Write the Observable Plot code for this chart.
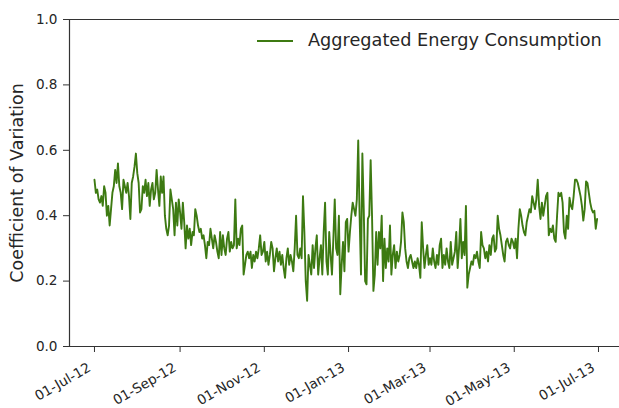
<!DOCTYPE html>
<html>
<head>
<meta charset="utf-8">
<script src="https://cdn.jsdelivr.net/npm/d3@7"></script>
<script src="https://cdn.jsdelivr.net/npm/@observablehq/plot@0.6"></script>
<style>
  html, body { margin: 0; padding: 0; background: #fff; }
  #wrap { position: relative; width: 619px; height: 408px; overflow: hidden; font-family: "DejaVu Sans", sans-serif; }
  #legend { position: absolute; left: 257px; top: 32px; height: 18px; white-space: nowrap; }
  #legend .swatch { position: absolute; left: 0; top: 8px; width: 36px; height: 0; border-top: 2px solid #3d7a12; }
  #legend .lbl { position: absolute; left: 51px; top: 0; font-size: 17.7px; line-height: 17.5px; color: #262626; }
</style>
</head>
<body>
<div id="wrap"></div>
<script>
// Daily coefficient of variation, 01-Jul-2012 .. 30-Jun-2013
const startDate = "2012-07-01";
const seriesName = "Aggregated Energy Consumption";
const yLabel = "Coefficient of Variation";
const jul12 = [0.51,0.47,0.48,0.45,0.44,0.46,0.43,0.49,0.47,0.40,0.43,0.37,0.42,0.47,0.49,0.54,0.50,0.56,0.49,0.47,0.42,0.51,0.49,0.47,0.50,0.46,0.39,0.50,0.52,0.55,0.59];
const aug12 = [0.53,0.50,0.41,0.42,0.49,0.47,0.51,0.46,0.50,0.43,0.48,0.50,0.45,0.47,0.54,0.48,0.43,0.52,0.47,0.52,0.40,0.36,0.34,0.37,0.48,0.45,0.42,0.34,0.44,0.37,0.45];
const sep12 = [0.41,0.36,0.44,0.38,0.30,0.37,0.33,0.36,0.31,0.35,0.34,0.42,0.40,0.37,0.35,0.36,0.33,0.34,0.31,0.27,0.32,0.31,0.36,0.33,0.30,0.34,0.32,0.29,0.27,0.35];
const oct12 = [0.28,0.34,0.30,0.28,0.33,0.35,0.29,0.32,0.30,0.31,0.45,0.30,0.33,0.31,0.36,0.37,0.22,0.25,0.28,0.29,0.27,0.29,0.24,0.28,0.26,0.29,0.27,0.30,0.34,0.28,0.29];
const nov12 = [0.32,0.26,0.29,0.25,0.28,0.32,0.30,0.23,0.27,0.30,0.26,0.29,0.25,0.28,0.24,0.21,0.27,0.30,0.25,0.28,0.26,0.23,0.30,0.40,0.28,0.27,0.30,0.27,0.46,0.35];
const dec12 = [0.20,0.14,0.28,0.25,0.22,0.31,0.24,0.30,0.34,0.22,0.27,0.31,0.22,0.35,0.44,0.26,0.22,0.35,0.28,0.22,0.33,0.45,0.30,0.28,0.40,0.16,0.25,0.32,0.23,0.38,0.39];
const jan13 = [0.29,0.35,0.40,0.44,0.42,0.40,0.45,0.63,0.40,0.22,0.59,0.42,0.20,0.19,0.39,0.40,0.57,0.40,0.17,0.22,0.35,0.25,0.35,0.30,0.40,0.20,0.33,0.24,0.30,0.26,0.37];
const feb13 = [0.22,0.28,0.31,0.24,0.29,0.26,0.28,0.32,0.41,0.38,0.30,0.26,0.24,0.27,0.28,0.26,0.24,0.26,0.24,0.27,0.25,0.21,0.38,0.30,0.24,0.28,0.31,0.25];
const mar13 = [0.27,0.25,0.30,0.26,0.24,0.28,0.25,0.31,0.33,0.24,0.28,0.25,0.30,0.26,0.24,0.32,0.25,0.27,0.29,0.35,0.24,0.30,0.39,0.27,0.32,0.28,0.43,0.18,0.22,0.24,0.26];
const apr13 = [0.25,0.28,0.27,0.29,0.26,0.24,0.35,0.31,0.30,0.27,0.29,0.26,0.31,0.28,0.33,0.34,0.29,0.30,0.40,0.36,0.34,0.31,0.28,0.26,0.32,0.33,0.31,0.30,0.33,0.32];
const may13 = [0.30,0.33,0.27,0.36,0.42,0.40,0.37,0.35,0.34,0.38,0.40,0.42,0.41,0.46,0.44,0.42,0.45,0.51,0.43,0.39,0.44,0.40,0.43,0.46,0.47,0.34,0.36,0.35,0.37,0.33,0.32];
const jun13 = [0.40,0.47,0.46,0.47,0.44,0.35,0.33,0.40,0.36,0.455,0.43,0.42,0.46,0.51,0.51,0.50,0.48,0.46,0.43,0.385,0.42,0.505,0.50,0.47,0.44,0.42,0.41,0.415,0.36,0.39];
const xTickLabels = ["2012-07-01","2012-09-01","2012-11-01","2013-01-01","2013-03-01","2013-05-01","2013-07-01"];
const yTickValues = [0, 0.2, 0.4, 0.6, 0.8, 1.0];

const values = [].concat(jul12, aug12, sep12, oct12, nov12, dec12, jan13, feb13, mar13, apr13, may13, jun13);
const start = new Date(startDate + "T00:00:00Z");
const data = values.map((v, i) => ({date: d3.utcDay.offset(start, i), cv: v}));
const xTicks = xTickLabels.map(s => new Date(s + "T00:00:00Z"));
const xDomain = [new Date(Date.UTC(2012, 5, 12, 22)), new Date(Date.UTC(2013, 6, 16, 5))];

const chart = Plot.plot({
  width: 619,
  height: 408,
  marginLeft: 69,
  marginRight: 0,
  marginTop: 19,
  marginBottom: 62,
  style: {fontFamily: "DejaVu Sans", fontSize: "13.6px", color: "#262626", background: "white", overflow: "visible"},
  x: {type: "utc", domain: xDomain},
  y: {domain: [0, 1]},
  marks: [
    Plot.line(data, {x: "date", y: "cv", stroke: "#3d7a12", strokeWidth: 1.9}),
    Plot.ruleY([0, 1], {stroke: "#333", strokeWidth: 1.2}),
    Plot.ruleX([xDomain[0]], {stroke: "#333", strokeWidth: 1.2}),
    Plot.axisY({ticks: yTickValues, tickFormat: d3.format(".1f"), tickSize: 6, tickPadding: 6, label: null, fontSize: 13.6, stroke: "#333"}),
    Plot.axisX({ticks: xTicks, tickFormat: () => null, tickSize: 6, label: null, stroke: "#333"}),
    Plot.axisX({ticks: xTicks, tickFormat: d3.utcFormat("%d-%b-%y"), tickRotate: -30, tickSize: 0, tickPadding: 20, dx: -5, label: null, fontSize: 13.6}),
    Plot.text([yLabel], {frameAnchor: "left", textAnchor: "middle", dx: -52, rotate: -90, fontSize: 17.5, fill: "#262626"})
  ]
});
const wrap = document.getElementById("wrap");
wrap.appendChild(chart);
const legend = document.createElement("div");
legend.id = "legend";
legend.innerHTML = '<span class="swatch"></span><span class="lbl"></span>';
legend.querySelector(".lbl").textContent = seriesName;
wrap.appendChild(legend);
</script>
</body>
</html>
